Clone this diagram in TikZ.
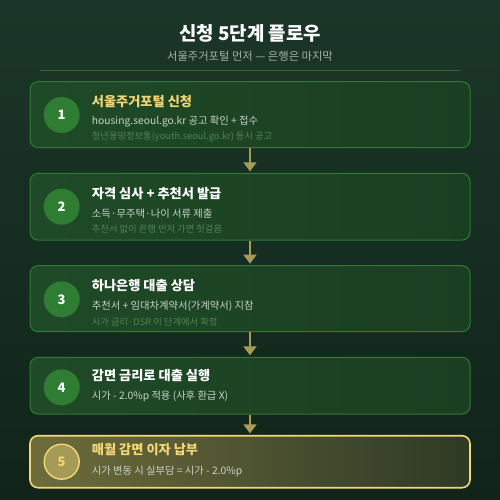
\documentclass[tikz,border=0pt]{standalone}
\usepackage{fontspec}
\setmainfont{Noto Sans CJK KR}
\usetikzlibrary{arrows.meta}
\definecolor{bgtop}{HTML}{1B3628}
\definecolor{bgbot}{HTML}{11241A}
\definecolor{boxfill}{HTML}{1F4A27}
\definecolor{boxfillR}{HTML}{1A3E21}
\definecolor{boxline}{HTML}{2F7A35}
\definecolor{circfill}{HTML}{2E7D32}
\definecolor{gold}{HTML}{F5D676}
\definecolor{subgray}{HTML}{A3B3A6}
\definecolor{textlight}{HTML}{C8D3C9}
\definecolor{textdim}{HTML}{4E8556}
\definecolor{arrowcol}{HTML}{A59D55}
\definecolor{fiveL}{HTML}{6E6C3C}
\definecolor{fiveR}{HTML}{2E3A25}
\definecolor{fivecirc}{HTML}{A69A58}
\definecolor{rulecol}{HTML}{2E6E30}
\tikzset{
  stepbox/.style={draw=boxline, line width=1pt, rounded corners=8pt,
    left color=boxfill, right color=boxfillR, minimum width=440pt, inner sep=0pt},
  lastbox/.style={draw=gold, line width=1.6pt, rounded corners=8pt,
    left color=fiveL, right color=fiveR, minimum width=440pt, inner sep=0pt},
  numcirc/.style={circle, fill=circfill, minimum size=36pt, inner sep=0pt,
    text=white, font=\bfseries\fontsize{13}{13}\selectfont},
  lastcirc/.style={circle, fill=fivecirc, draw=gold, line width=1.4pt, minimum size=35pt,
    inner sep=0pt, text=gold, font=\bfseries\fontsize{13}{13}\selectfont},
  ttl/.style={anchor=west, inner sep=0pt, text=white, font=\bfseries\fontsize{13.2}{14}\selectfont},
  lineA/.style={anchor=west, inner sep=0pt, text=textlight, font=\fontsize{10.3}{12}\selectfont},
  lineB/.style={anchor=west, inner sep=0pt, text=textdim, font=\fontsize{9.3}{11}\selectfont},
  flow/.style={draw=arrowcol, line width=1.5pt, -{Triangle[width=13pt,length=9pt]}, shorten >=1.5pt},
}
\begin{document}
\begin{tikzpicture}[x=1pt,y=-1pt]
\useasboundingbox (0,0) rectangle (500,500);
\shade[top color=bgtop, bottom color=bgbot] (0,0) rectangle (500,500);
% header
\node[text=white, font=\bfseries\fontsize{18.9}{21}\selectfont] (title) at (250,33) {신청 5단계 플로우};
\node[text=subgray, font=\fontsize{11.3}{13}\selectfont] (subtitle) at (250,56) {서울주거포털 먼저 — 은행은 마지막};
\coordinate (ruleL) at (40,70.7);
\coordinate (ruleR) at (460,70.7);
\draw[rulecol, line width=1.2pt] (ruleL) -- (ruleR);
% boxes
\node[stepbox, minimum height=66pt] (b1) at (250,114.7) {};
\node[stepbox, minimum height=66.7pt] (b2) at (250,206.7) {};
\node[stepbox, minimum height=66pt] (b3) at (250,298.7) {};
\node[stepbox, minimum height=56.7pt] (b4) at (250,385.7) {};
\node[lastbox, minimum height=52pt] (b5) at (250,461.7) {};
% circles
\node[numcirc] (c1) at (61.7,115) {1};
\node[numcirc] (c2) at (61.7,206.7) {2};
\node[numcirc] (c3) at (61.7,299.3) {3};
\node[numcirc] (c4) at (61.7,387.3) {4};
\node[lastcirc] (c5) at (61.7,461.7) {5};
% texts
\node[ttl, text=gold] (t1) at (91.7,101.5) {서울주거포털 신청};
\node[lineA] (a1) at (91.7,121.7) {housing.seoul.go.kr 공고 확인 + 접수};
\node[lineB] (d1) at (91.7,136.7) {청년몽땅정보통(youth.seoul.go.kr) 동시 공고};
\node[ttl] (t2) at (91.7,194) {자격 심사 + 추천서 발급};
\node[lineA] (a2) at (91.7,213.3) {소득·무주택·나이 서류 제출};
\node[lineB] (d2) at (91.7,229.3) {추천서 없이 은행 먼저 가면 헛걸음};
\node[ttl] (t3) at (91.7,286) {하나은행 대출 상담};
\node[lineA] (a3) at (91.7,306) {추천서 + 임대차계약서(가계약서) 지참};
\node[lineB] (d3) at (91.7,321.7) {시가 금리·DSR 이 단계에서 확정};
\node[ttl] (t4) at (91.7,376) {감면 금리로 대출 실행};
\node[lineA] (a4) at (91.7,396.7) {시가 - 2.0\%p 적용 (사후 환급 X)};
\node[ttl, text=gold] (t5) at (91.7,450) {매월 감면 이자 납부};
\node[lineA] (a5) at (91.7,471.7) {시가 변동 시 실부담 = 시가 - 2.0\%p};
% arrows
\draw[flow] (b1.south) -- (b2.north);
\draw[flow] (b2.south) -- (b3.north);
\draw[flow] (b3.south) -- (b4.north);
\draw[flow] (b4.south) -- (b5.north);
\end{tikzpicture}
\end{document}
